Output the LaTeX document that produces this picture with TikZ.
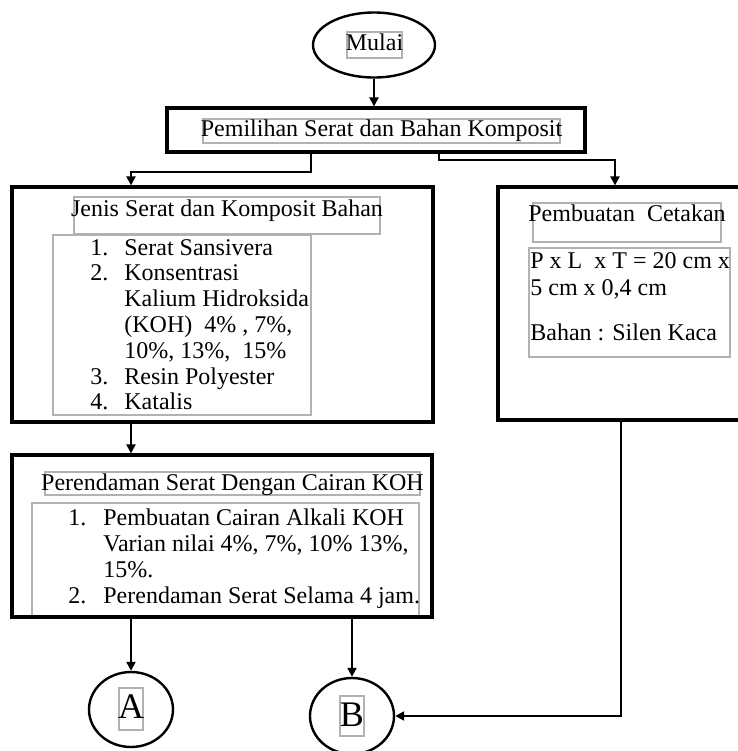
\documentclass[tikz,border=0pt]{standalone}
\usepackage{fontspec}
\setmainfont{Liberation Serif}
\usetikzlibrary{shapes.geometric,arrows.meta}
\begin{document}
\begin{tikzpicture}[x=0.5pt,y=-0.5pt,
  bigbox/.style={draw, line width=1.6pt, inner sep=0, rectangle},
  oval/.style={draw, line width=1.2pt, inner sep=0, ellipse},
  frame/.style={draw=gray!60, line width=0.6pt, inner sep=0, rectangle},
  txt/.style={inner sep=0, font=\fontsize{12}{14}\selectfont},
  big/.style={inner sep=0, font=\fontsize{18}{20}\selectfont},
  arr/.style={line width=1.1pt, -{Triangle[length=4.5pt,width=4.5pt]}},
]
\useasboundingbox (0,0) rectangle (738,751);

% thin grey text frames
\node[frame, minimum width=27.5pt, minimum height=13pt]   (fMul) at (374.5,45) {};
\node[frame, minimum width=178.5pt, minimum height=12pt]  (fPem) at (381.5,131) {};
\node[frame, minimum width=153pt, minimum height=18.5pt]  (fJen) at (227,215.5) {};
\node[frame, minimum width=129pt, minimum height=90pt]    (fJl)  at (182,325) {};
\node[frame, minimum width=94pt, minimum height=19.5pt]   (fCt)  at (627,222.5) {};
\node[frame, minimum width=100.5pt, minimum height=54.5pt](fCc)  at (629.5,302.5) {};
\node[frame, minimum width=187.5pt, minimum height=11.5pt](fRt)  at (232.5,483.5) {};
\node[frame, minimum width=193.5pt, minimum height=57pt]  (fRl)  at (225.5,560) {};
\node[frame, minimum width=12pt, minimum height=21pt]     (fA)   at (131,709) {};
\node[frame, minimum width=12pt, minimum height=20pt]     (fB)   at (352,716) {};

% main shapes
\node[oval, minimum width=61pt, minimum height=32.5pt] (start) at (374,45) {};
\node[bigbox, minimum width=209pt, minimum height=22pt] (pem) at (376,130) {};
\node[bigbox, minimum width=210.5pt, minimum height=117.5pt] (jen) at (222.5,304.5) {};
\node[bigbox, minimum width=131pt, minimum height=116.5pt] (cet) at (629,303.5) {};
\node[bigbox, minimum width=210pt, minimum height=81pt] (ren) at (222,536) {};
\node[oval, minimum width=42pt, minimum height=37.5pt] (a) at (131,709.5) {};
\node[oval, minimum width=42pt, minimum height=38pt] (b) at (352,716) {};

% texts
\node[txt, anchor=base] (tMul) at (374.5,50) {Mulai};
\node[txt, anchor=base] (tPem) at (381.5,136) {Pemilihan Serat dan Bahan Komposit};
\node[txt, anchor=base] (tJen) at (227,216) {Jenis Serat dan Komposit Bahan};

\node[txt, anchor=base west] (n1) at (90,255) {1.};
\node[txt, anchor=base west] (j1) at (124,255) {Serat Sansivera};
\node[txt, anchor=base west] (n2) at (90,280.8) {2.};
\node[txt, anchor=base west] (j2) at (124,280.8) {Konsentrasi};
\node[txt, anchor=base west] (j3) at (124,306.6) {Kalium Hidroksida};
\node[txt, anchor=base west] (j4) at (124,332.4) {(KOH)\ \ 4\%\ , 7\%,};
\node[txt, anchor=base west] (j5) at (124,358.2) {10\%, 13\%,\ \ 15\%};
\node[txt, anchor=base west] (n3) at (90,384) {3.};
\node[txt, anchor=base west] (j6) at (124,384) {Resin Polyester};
\node[txt, anchor=base west] (n4) at (90,409.8) {4.};
\node[txt, anchor=base west] (j7) at (124,409.8) {Katalis};

\node[txt, anchor=base] (tCt) at (627,221) {Pembuatan\ \ Cetakan};
\node[txt, anchor=base west] (c1) at (530,268) {P x L\ \ x T = 20 cm x};
\node[txt, anchor=base west] (c2) at (530,295) {5 cm x 0,4 cm};
\node[txt, anchor=base west] (c3) at (530,340) {Bahan\ : Silen Kaca};

\node[txt, anchor=base] (tRt) at (232.5,490) {Perendaman Serat Dengan Cairan KOH};
\node[txt, anchor=base west] (m1) at (68,525) {1.};
\node[txt, anchor=base west] (r1) at (103,525) {Pembuatan Cairan Alkali KOH};
\node[txt, anchor=base west] (r2) at (103,551) {Varian nilai 4\%, 7\%, 10\% 13\%,};
\node[txt, anchor=base west] (r3) at (103,577) {15\%.};
\node[txt, anchor=base west] (m2) at (68,603) {2.};
\node[txt, anchor=base west] (r4) at (103,603) {Perendaman Serat Selama 4 jam.};

\node[big, anchor=base] (tA) at (131,718) {A};
\node[big, anchor=base] (tB) at (352,726) {B};

% connectors
\draw[arr] (start.south) -- (start.south |- pem.north);
\draw[arr] ([xshift=-32.5pt]pem.south) -- ++(0,-9pt) -| (jen.north -| a.north);
\draw[arr] ([xshift=31.5pt]pem.south) -- ++(0,-3pt) -| ([xshift=-7pt]cet.north);
\draw[arr] (jen.south -| a.north) -- (ren.north -| a.north);
\draw[arr] (ren.south -| a.north) -- (a.north);
\draw[arr] (ren.south -| b.north) -- (b.north);
\draw[arr] ([xshift=-4pt]cet.south) |- (b.east);
\end{tikzpicture}
\end{document}
